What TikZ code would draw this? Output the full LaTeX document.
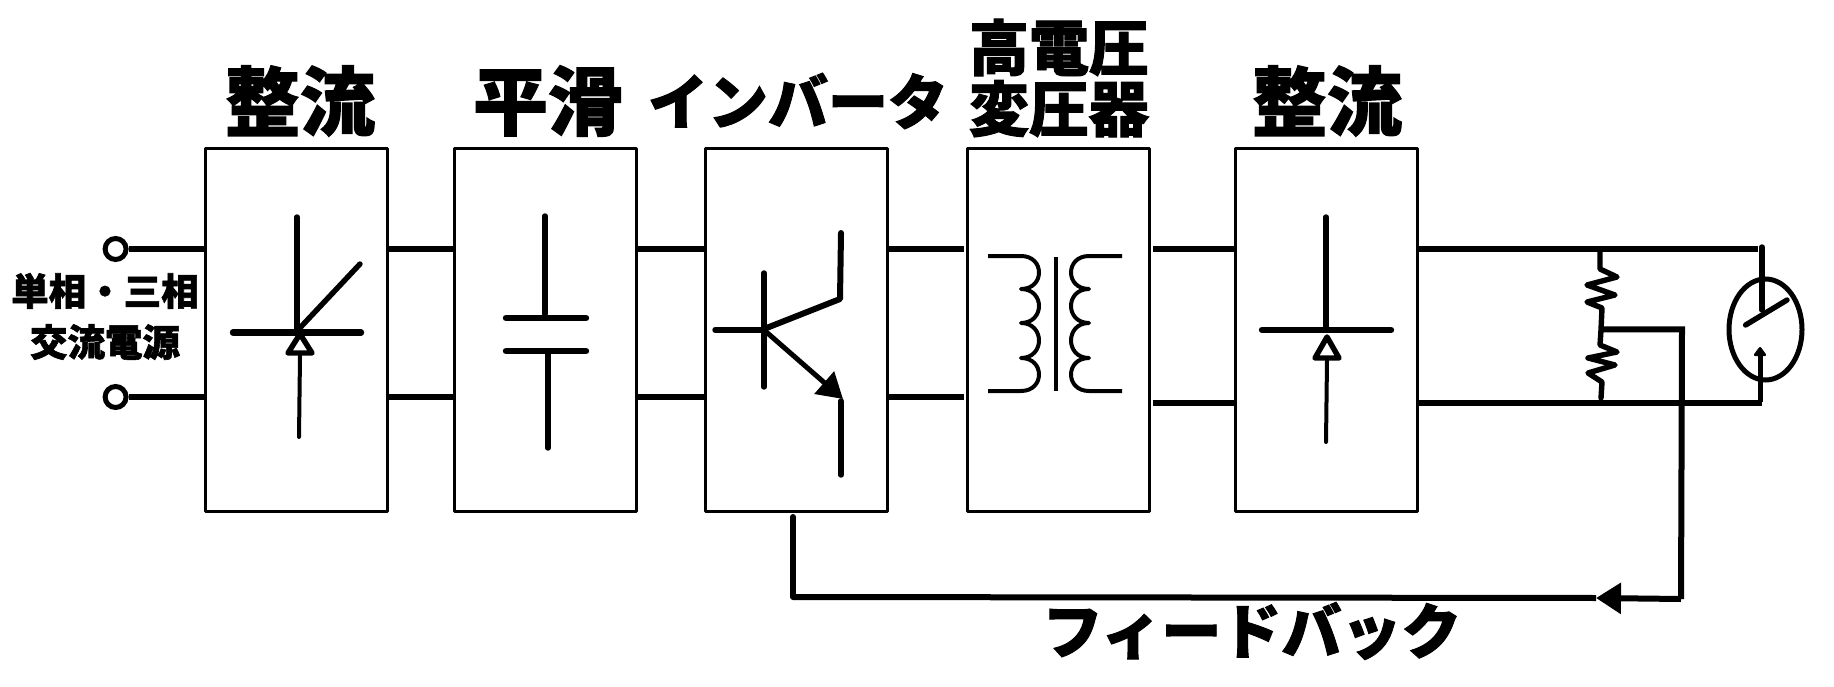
\documentclass[tikz,border=0pt]{standalone}
\usepackage{fontspec}
\usepackage{tikz}
\usetikzlibrary{arrows.meta,shapes.geometric}
\newfontfamily\jpblack[FakeBold=1.6]{Noto Sans CJK JP Black}

\tikzset{
    blockbox/.style={draw, line width=2.8pt, line join=round, minimum width=182pt, minimum height=363pt, inner sep=0pt},
    wire/.style={line width=6pt},
    sym/.style={line width=5.4pt, line cap=round, line join=round},
    bigjp/.style={font=\jpblack\fontsize{75}{75}\selectfont, inner sep=0pt},
    midjp/.style={font=\jpblack\fontsize{60}{61}\selectfont, inner sep=0pt, align=center},
    smalljp/.style={font=\jpblack\fontsize{37.5}{38}\selectfont, inner sep=0pt},
    terminal/.style={circle, draw, line width=5pt, fill=white, minimum size=21pt, inner sep=0pt},
}

\begin{document}
\begin{tikzpicture}[x=1pt, y=-1pt]

        \useasboundingbox (0,0) rectangle (1834,687);

        \coordinate (top) at (0,249);
        \coordinate (bot) at (0,397);
        \coordinate (hvbot) at (0,402.5);

        \node[blockbox] (rectA) at (296.7,329.7) {};
        \node[blockbox] (smooth) at (545.5,329.7) {};
        \node[blockbox] (inverter) at (796.5,329.7) {};
        \node[blockbox] (trafo) at (1058.5,329.7) {};
        \node[blockbox] (rectB) at (1326.3,329.7) {};

        \node[bigjp] (lblRectA) at (300,101) {整流};
        \node[bigjp] (lblSmooth) at (548,101) {平滑};
        \node[midjp] (lblInverter) at (798,101) {インバータ};
        \node[midjp] (lblTrafo) at (1059,78) {高電圧\\変圧器};
        \node[bigjp] (lblRectB) at (1327,101) {整流};
        \node[midjp] (lblFeedback) at (1252,631) {フィードバック};
        \node[smalljp] (lblSourceA) at (105,291) {単相・三相};
        \node[smalljp] (lblSourceB) at (105,342) {交流電源};

        % wires between blocks
        \node[terminal] (inA) at (115.6,249) {};
        \node[terminal] (inB) at (115.6,397) {};
        \draw[wire] (inA) -- (rectA.west |- top);
        \draw[wire] (inB) -- (rectA.west |- bot);
        \draw[wire] (rectA.east |- top) -- (smooth.west |- top);
        \draw[wire] (rectA.east |- bot) -- (smooth.west |- bot);
        \draw[wire] (smooth.east |- top) -- (inverter.west |- top);
        \draw[wire] (smooth.east |- bot) -- (inverter.west |- bot);
        \draw[wire] (inverter.east |- top) -- ([xshift=-2pt]trafo.west |- top);
        \draw[wire] (inverter.east |- bot) -- ([xshift=-2pt]trafo.west |- bot);
        \draw[wire] ([xshift=2pt]trafo.east |- top) -- (rectB.west |- top);
        \draw[wire] ([xshift=2pt]trafo.east |- hvbot) -- (rectB.west |- hvbot);

        \coordinate (loadTop) at (1758,249);
        \coordinate (loadBot) at (1762,402.5);
        \draw[wire] (rectB.east |- top) -- (loadTop);
        \draw[wire] (rectB.east |- hvbot) -- (loadBot);

        % first rectifier
        \draw[sym] (297,217) -- (297,330);
        \draw[sym] (297,331) -- (360,264);
        \draw[sym, line width=6.4pt] (233,332.5) -- (361,332.5);
        \draw[sym, fill=white] (300,334) -- (288,353) -- (312,353) -- cycle;
        \draw[sym, line width=4pt] (300,356) -- (299,437);

        % smoothing capacitor
        \draw[sym] (545,216) -- (545,314);
        \draw[sym, line width=6.4pt] (506,318) -- (586,318);
        \draw[sym, line width=6.4pt] (506,351) -- (586,351);
        \draw[sym] (548,351) -- (548,448);

        % inverter transistor
        \draw[sym] (764,273) -- (764,387);
        \draw[sym] (715,330) -- (764,330);
        \draw[sym, line width=6pt] (764,329) -- (840,299) -- (841,233);
        \draw[line width=5pt, -{Triangle[length=25pt, width=29pt]}] (764,330) -- (843,399);
        \draw[sym] (841,401) -- (841,475);

        % transformer
        \draw[sym, line cap=butt, line width=4pt] (988,256) -- (1021,256)
            \foreach \ya/\yb in {256/289,289/323,323/358,358/391} {
                .. controls (1045,\ya) and (1045,\yb) .. (1021,\yb)
            } -- (988,391);
        \draw[sym, line cap=butt, line width=4pt] (1122,256) -- (1089,256)
            \foreach \ya/\yb in {256/289,289/323,323/358,358/391} {
                .. controls (1065,\ya) and (1065,\yb) .. (1089,\yb)
            } -- (1122,391);
        \draw[sym, line cap=butt, line width=4pt] (1055.5,257) -- (1055.5,391);

        % second rectifier
        \draw[sym] (1326,217) -- (1326,330);
        \draw[sym, line width=6.4pt] (1262,330) -- (1391,330);
        \draw[sym, fill=white] (1327,337) -- (1315,358) -- (1339,358) -- cycle;
        \draw[sym, line width=4pt] (1327,360) -- (1326,442);

        % divider resistors
        \draw[sym] (1600,252) -- (1600,269) -- (1617,277) -- (1587,285) -- (1615,295) -- (1587,302)
            -- (1602,308) -- (1601,330) -- (1600,345) -- (1617,352) -- (1588,358) -- (1615,365) -- (1588,373)
            -- (1602,382) -- (1601,398);

        % discharge tube
        \node[draw, ellipse, line width=5pt, minimum width=73pt, minimum height=101pt, inner sep=0pt] (tube) at (1765.5,329.5) {};
        \draw[sym] (1762,247) -- (1762,310);
        \draw[sym] (1745.6,325) -- (1787,300);
        \draw[line width=5pt, -{Triangle[round, length=10pt, width=14pt]}] (1760,402) -- (1760,347);

        % feedback loop
        \coordinate (tap) at (1600,329.3);
        \coordinate (fbCorner) at (1681,599);
        \coordinate (fbHead) at (1596,598);
        \coordinate (fbLeft) at (793,597);
        \coordinate (fbUp) at (793,517);
        \draw[wire] (tap) -- (1682,329.3) -- (fbCorner);
        \draw[wire, -{Triangle[length=25pt, width=30pt]}] (fbCorner) -- (fbHead);
        \draw[wire] (fbHead) -- (fbLeft);
        \draw[wire, line cap=round] (fbLeft) -- (fbUp);

    \end{tikzpicture}
\end{document}
